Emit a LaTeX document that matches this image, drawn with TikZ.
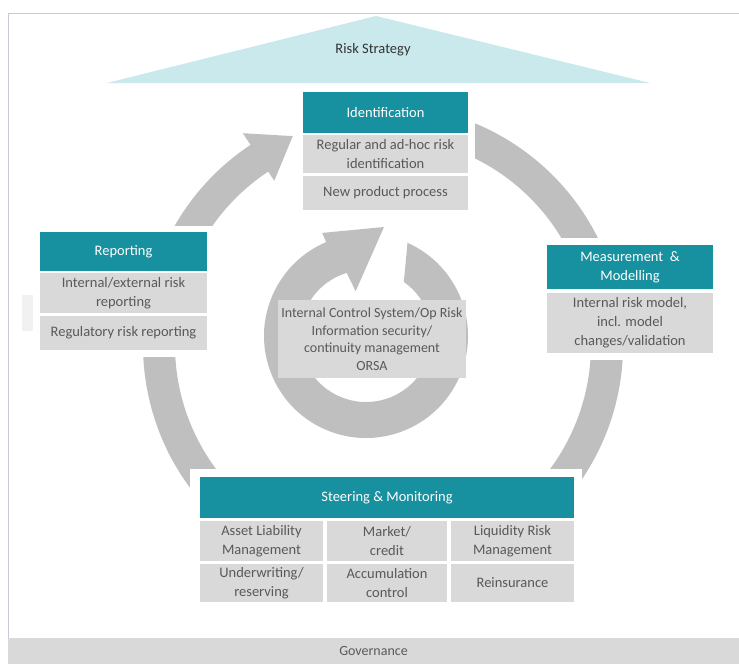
\documentclass[tikz,border=0pt]{standalone}
\usepackage{fontspec}
\setmainfont{Carlito}
\usetikzlibrary{calc}
\definecolor{tealh}{HTML}{17909F}
\definecolor{boxg}{HTML}{D9D9D9}
\definecolor{ringg}{HTML}{BFBFBF}
\definecolor{txtg}{HTML}{595959}
\definecolor{trif}{HTML}{C9E9ED}
\definecolor{framec}{HTML}{C5CAD3}
\definecolor{faint}{HTML}{F1F1F1}
\begin{document}
\begin{tikzpicture}[x=1pt,y=1pt,
  hdr/.style={fill=tealh, text=white, inner sep=0pt, align=center, font=\fontsize{14.5}{19}\selectfont},
  subbox/.style={fill=boxg, text=txtg, inner sep=0pt, align=center, font=\fontsize{14.5}{19}\selectfont},
  sz/.style 2 args={minimum width=#1, minimum height=#2},
  halo/.style={fill=white},
  ring/.style={fill=ringg}]
\useasboundingbox (0,0) rectangle (739,-664);
\fill[white] (0,0) rectangle (739,-664);

% frame
\draw[framec, line width=0.8pt] (739,-13) -- (8,-13) -- (8,-638);
% faint artefact
\fill[faint] (22,-295) rectangle (40,-331);

% governance
\node[fill=boxg, text=txtg, inner sep=0pt, sz={731pt}{26pt}, font=\fontsize{14}{16}\selectfont] (gov) at (373.5,-651) {Governance};

% risk strategy
\fill[trif] (107,-83) -- (376,-16) -- (650,-83) -- cycle;
\node[text=black!80, font=\fontsize{14.5}{17}\selectfont] (rs) at (373,-50) {Risk Strategy};

% big ring
\coordinate (OC) at (383,-345);
\fill[ring] ($(OC)+(100:240)$) arc[start angle=100, end angle=-236.5, radius=240]
  -- ($(OC)+(123.5:254)$) -- ($(OC)+(123.5:224)+(33.5:40)$) -- ($(OC)+(123.5:197)$)
  -- ($(OC)+(123.5:208)$) arc[start angle=123.5, end angle=460, radius=208] -- cycle;

% inner ring
\coordinate (IC) at (366,-336);
\coordinate (itip) at (384,-227);
\fill[ring] ($(IC)+(66:102)$) arc[start angle=66, end angle=-247, radius=102]
  -- ($(IC)+(113:112)$) -- (itip) -- ($(IC)+(103:46)$)
  -- ($(IC)+(107:66)$) arc[start angle=107, end angle=415, radius=66] -- cycle;

% halos
\fill[halo] (296,-86) rectangle (475,-217);
\fill[halo] (33,-226) rectangle (214,-357);
\fill[halo] (540,-238) rectangle (720,-360);
\fill[halo] (190,-469) rectangle (582,-610);

% Identification
\node[hdr, sz={165pt}{41pt}] (idh) at (385.5,-112.5) {Identification};
\node[subbox, sz={165pt}{38pt}] (id1) at (385.5,-154) {Regular and ad-hoc risk\\identification};
\node[subbox, sz={165pt}{34pt}] (id2) at (385.5,-193) {New product process};

% Reporting
\node[hdr, sz={167pt}{39pt}] (reph) at (123.5,-251.5) {Reporting};
\node[subbox, sz={167pt}{40pt}] (rep1) at (123.5,-293) {Internal/external risk\\reporting};
\node[subbox, sz={167pt}{34pt}] (rep2) at (123.5,-333) {Regulatory risk reporting};

% Measurement
\node[hdr, sz={166pt}{44pt}] (meh) at (630,-267) {Measurement \ \&\\Modelling};
\node[subbox, sz={166pt}{60pt}] (me1) at (630,-323) {Internal risk model,\\incl. model\\changes/validation};

% Steering
\node[hdr, sz={374pt}{41pt}] (sth) at (387,-497.5) {Steering \& Monitoring};
\node[subbox, sz={123pt}{40pt}] (s11) at (261.5,-541) {Asset Liability\\Management};
\node[subbox, sz={120pt}{40pt}] (s12) at (387,-541) {Market/\\credit};
\node[subbox, sz={123pt}{40pt}] (s13) at (512.5,-541) {Liquidity Risk\\Management};
\node[subbox, sz={123pt}{38pt}] (s21) at (261.5,-583) {Underwriting/\\reserving};
\node[subbox, sz={120pt}{38pt}] (s22) at (387,-583) {Accumulation\\control};
\node[subbox, sz={123pt}{38pt}] (s23) at (512.5,-583) {Reinsurance};

% centre
\node[subbox, sz={188pt}{78pt}, font=\fontsize{14}{17.5}\selectfont] (ctr) at (372,-339)
  {Internal Control System/Op Risk\\Information security/\\continuity management\\ORSA};
\end{tikzpicture}
\end{document}
